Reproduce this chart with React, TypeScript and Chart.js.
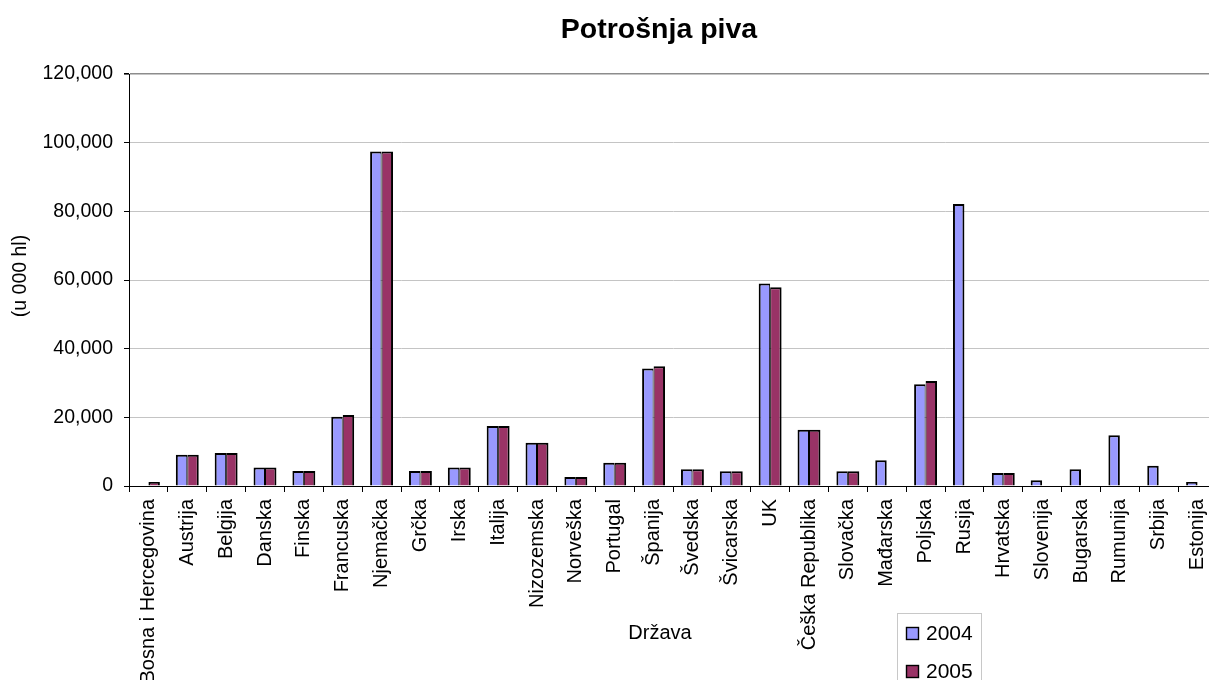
import React, { useEffect, useRef } from 'react';
import { Chart, registerables } from 'chart.js';

Chart.register(...registerables);

// Beer consumption per country, in thousands of hectolitres
const countries = [
  'Bosna i Hercegovina', 'Austrija', 'Belgija', 'Danska', 'Finska', 'Francuska',
  'Njemačka', 'Grčka', 'Irska', 'Italija', 'Nizozemska', 'Norveška', 'Portugal',
  'Španija', 'Švedska', 'Švicarska', 'UK', 'Češka Republika', 'Slovačka',
  'Mađarska', 'Poljska', 'Rusija', 'Hrvatska', 'Slovenija', 'Bugarska',
  'Rumunija', 'Srbija', 'Estonija',
];

const beer2004: (number | null)[] = [
  null, 9100, 9600, 5400, 4400, 20200, 97400, 4400, 5400, 17500, 12600, 2600, 6800,
  34200, 4900, 4300, 59000, 16400, 4300, 7500, 29600, 82100, 3800, 1650, 4900,
  14800, 5900, 1200,
];

const beer2005: (number | null)[] = [
  1200, 9100, 9600, 5400, 4400, 20700, 97400, 4400, 5400, 17500, 12600, 2600, 6800,
  34900, 4900, 4300, 57900, 16400, 4300, null, 30600, null, 3800, null, null,
  null, null, null,
];

const seriesNames = ['2004', '2005'];
const seriesColors = ['#9999FF', '#993366'];
const seriesValues = [beer2004, beer2005];

const yTickValues = [0, 20000, 40000, 60000, 80000, 100000, 120000];

const chartTitle = 'Potrošnja piva';
const yAxisTitle = '(u 000 hl)';
const xAxisTitle = 'Država';

const FONT = '"Liberation Sans", Arial, Helvetica, sans-serif';
const CANVAS_W = 1240;
const CANVAS_H = 720;
const EDGE = 2;

// Outline of each bar; where two bars of a pair touch, the shared edge is split between them
const barBorder = (seriesIndex: number) => (c: any) => {
  const partner = seriesValues[1 - seriesIndex][c.dataIndex];
  const inner = partner == null ? EDGE : EDGE / 2;
  return seriesIndex === 0
    ? { left: EDGE, top: EDGE, right: inner, bottom: 0 }
    : { left: inner, top: EDGE, right: EDGE, bottom: 0 };
};

// Title, axis captions and the boxed legend drawn on top of the plot
const decorations = {
  id: 'decorations',
  afterDraw(chart: Chart) {
    const { ctx } = chart;
    ctx.save();
    ctx.fillStyle = '#000';
    ctx.textBaseline = 'alphabetic';

    ctx.font = `bold 28.5px ${FONT}`;
    ctx.textAlign = 'center';
    ctx.fillText(chartTitle, 659, 37.5);

    ctx.save();
    ctx.translate(26, 276);
    ctx.rotate(-Math.PI / 2);
    ctx.font = `19.5px ${FONT}`;
    ctx.textAlign = 'center';
    ctx.fillText(yAxisTitle, 0, 0);
    ctx.restore();

    ctx.font = `20px ${FONT}`;
    ctx.textAlign = 'center';
    ctx.fillText(xAxisTitle, 660, 639);

    // legend
    ctx.strokeStyle = '#c8c8c8';
    ctx.lineWidth = 1;
    ctx.strokeRect(897.5, 613.5, 84, 120);
    chart.data.datasets.forEach((ds: any, i: number) => {
      const top = 627.5 + i * 38;
      ctx.fillStyle = ds.backgroundColor;
      ctx.fillRect(906.5, top, 12, 12);
      ctx.strokeStyle = '#000';
      ctx.lineWidth = 1.4;
      ctx.strokeRect(906.5, top, 12, 12);
      ctx.fillStyle = '#000';
      ctx.font = `21px ${FONT}`;
      ctx.textAlign = 'left';
      ctx.fillText(ds.label, 926, 639.5 + i * 38);
    });
    ctx.restore();
  },
};

export default function App() {
  const canvasRef = useRef<HTMLCanvasElement | null>(null);

  useEffect(() => {
    if (!canvasRef.current) return;
    const chart = new Chart(canvasRef.current, {
      type: 'bar',
      data: {
        labels: countries,
        datasets: seriesValues.map((values, i) => ({
          label: seriesNames[i],
          data: values,
          backgroundColor: seriesColors[i],
          borderColor: '#000',
          borderWidth: barBorder(i),
          borderSkipped: false,
          categoryPercentage: 0.59,
          barPercentage: 1,
        })),
      },
      options: {
        responsive: false,
        animation: false,
        layout: { padding: { top: 74, left: 0, right: 23, bottom: 0 } },
        plugins: {
          legend: { display: false },
          title: { display: false },
          tooltip: { enabled: false },
        },
        scales: {
          x: {
            offset: true,
            grid: {
              offset: true,
              drawOnChartArea: false,
              drawTicks: true,
              tickLength: 6,
              tickColor: '#000',
              color: '#000',
            },
            border: { color: '#000', width: 1 },
            ticks: {
              autoSkip: false,
              minRotation: 90,
              maxRotation: 90,
              padding: 7,
              color: '#000',
              font: { family: FONT, size: 20 },
            },
            afterFit(scale: any) {
              scale.height = CANVAS_H - 486;
            },
          },
          y: {
            min: 0,
            max: 120000,
            afterBuildTicks(scale: any) {
              scale.ticks = yTickValues.map((v) => ({ value: v }));
            },
            grid: {
              color: (c: any) =>
                c.tick && c.tick.value === 120000 ? '#8c8c8c' : c.tick && c.tick.value === 0 ? '#000' : '#c4c4c4',
              lineWidth: (c: any) => (c.tick && c.tick.value === 120000 ? 1.6 : 1),
              tickColor: '#000',
              tickLength: 5,
            },
            border: { color: '#000', width: 1 },
            ticks: {
              padding: 11,
              color: '#000',
              font: { family: FONT, size: 19.5 },
              callback: (v: any) => Number(v).toLocaleString('en-US'),
            },
            afterFit(scale: any) {
              scale.width = 129;
            },
          },
        },
      },
      plugins: [decorations],
    });
    return () => chart.destroy();
  }, []);

  return (
    <div
      style={{
        position: 'fixed',
        left: 0,
        top: 0,
        width: 1209,
        height: 680,
        overflow: 'hidden',
        background: '#fff',
      }}
    >
      <canvas
        ref={canvasRef}
        width={CANVAS_W}
        height={CANVAS_H}
        style={{ display: 'block', width: CANVAS_W, height: CANVAS_H }}
      />
    </div>
  );
}
